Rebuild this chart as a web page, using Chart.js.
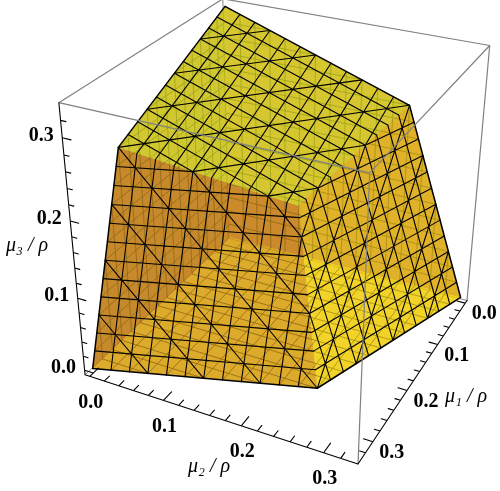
<!DOCTYPE html>
<html>
<head>
<meta charset="utf-8">
<style>
  html, body { margin:0; padding:0; background:#fff; }
  #wrap { width:500px; height:491px; }
</style>
<script src="https://cdn.jsdelivr.net/npm/chart.js@4/dist/chart.umd.min.js"></script>
</head>
<body>
<div id="wrap"><canvas id="chart" width="500" height="491"></canvas></div>
<script>
// plot range of all three axes, mesh planes sit at level/meshDivisor
const boxLo = -0.0067;
const boxHi = 0.34;
const meshDivisor = 48;
const meshLevels = [1,2,3,4,5,6,7,8,9,10,11,12,13,14,15];

// polytope corners as [mu1, mu2, mu3]
const pOrigin = [0, 0, 0];
const pMu1 = [1/3, 0, 0];
const pMu2 = [0, 1/3, 0];
const pMu3 = [0, 0, 1/3];
const pMu1Mu2 = [1/4, 1/4, 0];
const pMu1Mu3 = [1/4, 0, 1/4];
const pMu2Mu3 = [0, 1/4, 1/4];
const pCentre = [1/5, 1/5, 1/5];

const faceBackLeft = [pOrigin, pMu1, pMu1Mu3, pMu3];
const faceBackRight = [pOrigin, pMu2, pMu2Mu3, pMu3];
const faceBottom = [pOrigin, pMu1, pMu1Mu2, pMu2];
const faceLeft = [pMu1, pMu1Mu2, pCentre, pMu1Mu3];
const faceRight = [pMu2, pMu1Mu2, pCentre, pMu2Mu3];
const faceTop = [pMu3, pMu1Mu3, pCentre, pMu2Mu3];
const outline = [pMu3, pMu1Mu3, pMu1, pMu1Mu2, pMu2, pMu2Mu3, pMu3];

const tickValues = [0,0.02,0.04,0.06,0.08,0.1,0.12,0.14,0.16,0.18,0.2,0.22,0.24,0.26,0.28,0.3,0.32];
const labelValues = [0, 0.1, 0.2, 0.3];

// camera: front-bottom box corner and the vanishing points of the three box directions
const cornerPx = [358, 464];
const vanishMu1 = [994, -490, 0.2068];
const vanishMu2 = [-2552, -487, 0.1035];
const vanishMu3 = [280, 2400, -0.1307];

function project(m) {
  const u = (boxHi - m[0]) / (boxHi - boxLo) * vanishMu1[2];
  const v = (boxHi - m[1]) / (boxHi - boxLo) * vanishMu2[2];
  const w = (m[2] - boxLo) / (boxHi - boxLo) * vanishMu3[2];
  const n = 1 + u + v + w;
  return {
    x: (cornerPx[0] + u*vanishMu1[0] + v*vanishMu2[0] + w*vanishMu3[0]) / n,
    y: (cornerPx[1] + u*vanishMu1[1] + v*vanishMu2[1] + w*vanishMu3[1]) / n
  };
}

const GAP = {x:NaN, y:NaN};

function meshOf(face) {
  const pts = [];
  for (let axis = 0; axis < 3; axis++) {
    meshLevels.forEach(k => {
      const l = k / meshDivisor;
      const hits = [];
      face.forEach((a, i) => {
        const b = face[(i+1) % face.length];
        if ((a[axis] < l) !== (b[axis] < l)) {
          const t = (l - a[axis]) / (b[axis] - a[axis]);
          hits.push(a.map((c, j) => c + t*(b[j]-c)));
        }
      });
      if (hits.length === 2) pts.push(project(hits[0]), project(hits[1]), GAP);
    });
  }
  return pts;
}

let _order = 1000;
const datasets = [];
function addLine(data, color, width) {
  datasets.push({ data, borderColor:color, borderWidth:width, pointRadius:0, fill:false,
    tension:0, spanGaps:false, order:_order--, clip:false });
}
function addFace(face, fillColor, meshWidth, meshColor) {
  datasets.push({ data:[...face, face[0]].map(project), borderWidth:0, borderColor:'transparent',
    backgroundColor:fillColor, pointRadius:0, fill:'shape', tension:0, order:_order--, clip:false });
  addLine(meshOf(face), meshColor, meshWidth);
}
function segment(a, b) { return [project(a), project(b), GAP]; }

// box edges hidden behind the surface
const c = (a, b, d) => [a ? boxHi : boxLo, b ? boxHi : boxLo, d ? boxHi : boxLo];
addLine([
  ...segment(c(0,0,0), c(1,0,0)), ...segment(c(0,0,0), c(0,1,0)), ...segment(c(0,0,0), c(0,0,1))
], '#888', 1);

// faces back to front, the colours mix through the opacity
addFace(faceBackLeft, 'rgba(105,35,0,0.6)', 0.8, '#222');
addFace(faceBackRight, 'rgba(125,35,0,0.6)', 0.8, '#222');
addFace(faceBottom, 'rgba(197,170,0,0.6)', 0.8, '#222');
addFace(faceLeft, 'rgba(220,148,5,0.6)', 1.1, '#000');
addFace(faceRight, 'rgba(255,215,0,0.6)', 1.1, '#000');
addFace(faceTop, 'rgba(238,250,14,0.6)', 1.1, '#000');
addLine(outline.map(project), '#000', 1.5);

// box edges in front
addLine([
  ...segment(c(1,0,1), c(0,0,1)), ...segment(c(0,0,1), c(0,1,1)), ...segment(c(1,0,1), c(1,1,1)),
  ...segment(c(1,1,1), c(0,1,1)), ...segment(c(0,1,1), c(0,1,0)), ...segment(c(1,1,1), c(1,1,0))
], '#808080', 1.2);

// axes with ticks
const isMajor = v => labelValues.some(l => Math.abs(l - v) < 1e-6);
const axis1 = [...segment(c(1,1,0), c(0,1,0))];
const axis2 = [...segment(c(1,0,0), c(1,1,0))];
const axis3 = [...segment(c(1,0,0), c(1,0,1))];
tickValues.forEach(v => {
  const len = isMajor(v) ? 0.011 : 0.0067;
  axis1.push(...segment([v, boxHi, boxLo], [v, boxHi - len, boxLo]));
  axis2.push(...segment([boxHi, v, boxLo], [boxHi - len*1.6, v, boxLo]));
  axis3.push(...segment([boxHi, boxLo, v], [boxHi, boxLo + len, v]));
});
addLine([...axis1, ...axis2, ...axis3], '#000', 1.1);

const tickLabelFont = 'bold 20px "Liberation Serif"';
const axisLabelFont = 'italic 20px "Liberation Serif"';
const axisTitles = [
  { text:'\u03BC\u2083 / \u03C1', x:27, y:246 },
  { text:'\u03BC\u2082 / \u03C1', x:209, y:467 },
  { text:'\u03BC\u2081 / \u03C1', x:466, y:397 }
];

const textPlugin = {
  id:'axisText',
  afterDatasetsDraw(chart) {
    const { ctx, scales:{x, y} } = chart;
    ctx.save();
    ctx.fillStyle = '#000';
    ctx.textAlign = 'center';
    ctx.textBaseline = 'middle';
    ctx.font = tickLabelFont;
    labelValues.forEach(v => {
      const s = v.toFixed(1);
      const p1 = project([v, boxHi, boxLo]);
      const p2 = project([boxHi, v, boxLo]);
      const p3 = project([boxHi, boxLo, v]);
      ctx.fillText(s, x.getPixelForValue(p1.x) + 19, y.getPixelForValue(p1.y) + 11);
      ctx.fillText(s, x.getPixelForValue(p2.x) + 1, y.getPixelForValue(p2.y) + 26);
      ctx.fillText(s, x.getPixelForValue(p3.x) - 21, y.getPixelForValue(p3.y) - 2);
    });
    ctx.font = axisLabelFont;
    axisTitles.forEach(t => ctx.fillText(t.text, x.getPixelForValue(t.x), y.getPixelForValue(t.y)));
    ctx.restore();
  }
};

new Chart(document.getElementById('chart'), {
  type:'scatter',
  data:{ datasets },
  plugins:[textPlugin],
  options:{
    responsive:false,
    animation:false,
    events:[],
    layout:{ padding:0 },
    plugins:{ legend:{display:false}, tooltip:{enabled:false} },
    elements:{ line:{ borderCapStyle:'round', borderJoinStyle:'round' } },
    datasets:{ scatter:{ showLine:true } },
    scales:{
      x:{ type:'linear', min:0, max:500, display:false },
      y:{ type:'linear', min:0, max:491, reverse:true, display:false }
    }
  }
});
</script>
</body>
</html>
